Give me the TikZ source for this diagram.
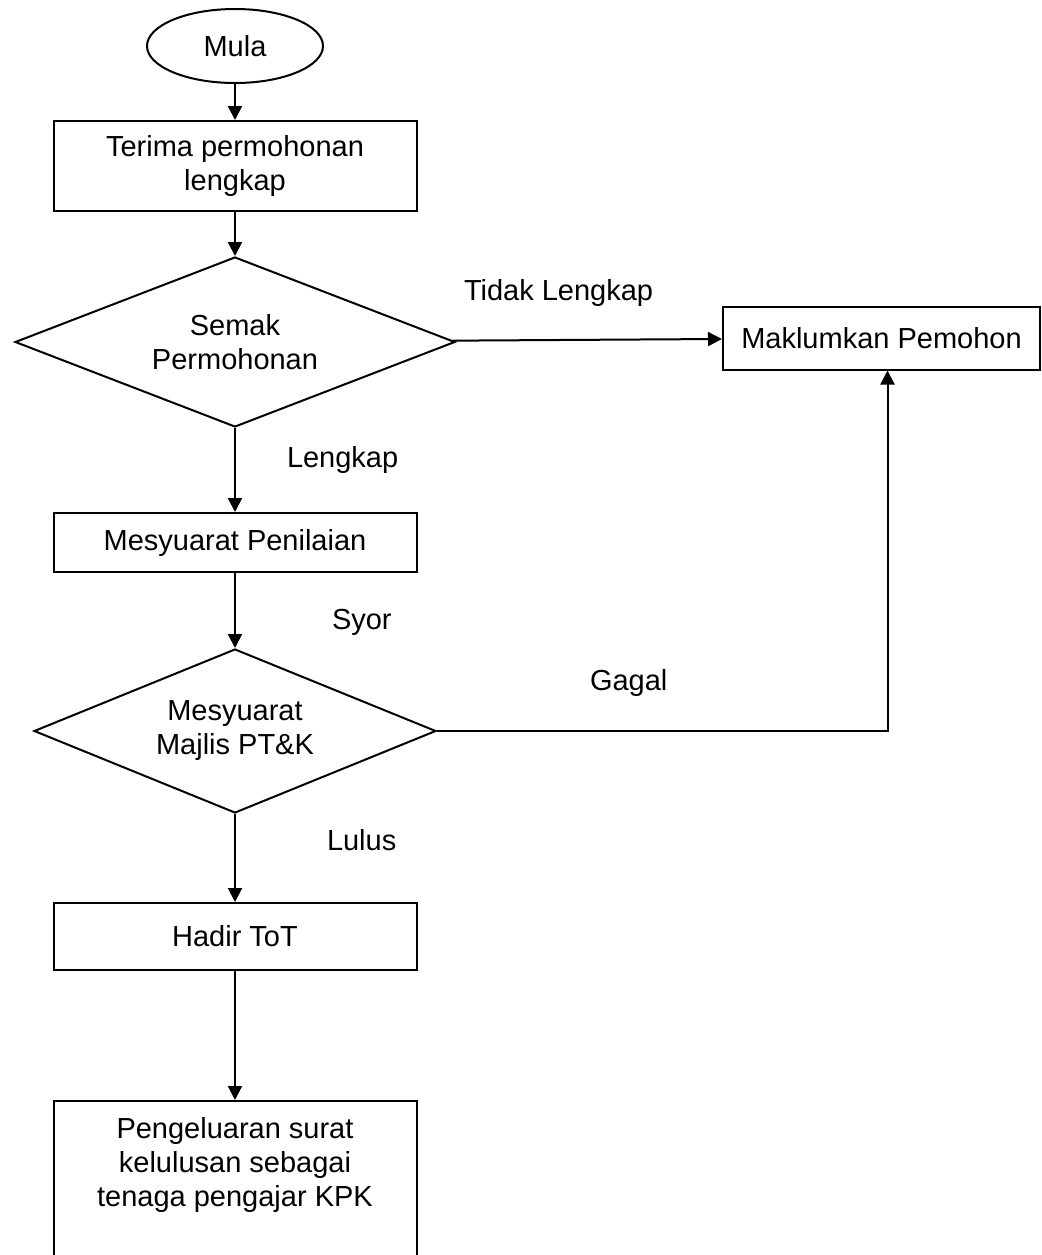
\documentclass[tikz,border=0pt]{standalone}
\usepackage{fontspec}
\setmainfont{Liberation Sans}
\usetikzlibrary{shapes.geometric,positioning,arrows.meta}

\begin{document}
\begin{tikzpicture}[x=0.5pt,y=-0.5pt,line width=1pt,
        font=\fontsize{14.5}{17}\selectfont,
        stepbox/.style={rectangle,draw,align=center,minimum width=181.5pt},
        check/.style={diamond,draw,align=center,inner sep=0pt,aspect=2.5},
        flow/.style={-{Triangle[length=7pt,width=7pt]}},
        lbl/.style={inner sep=0pt}]
        \clip (0,0) rectangle (1042,1255);
        \node[ellipse,draw,minimum width=88pt,minimum height=37pt] (mula) at (235,46) {Mula};
        \node[stepbox,minimum height=45pt] (terima) [below=18pt of mula] {Terima permohonan\\lengkap};
        \node[check,minimum width=220pt,minimum height=85pt] (semak) [below=22pt of terima] {Semak\\Permohonan};
        \node[stepbox,minimum width=158.5pt,minimum height=31.5pt] (maklum) [right=133pt of semak,yshift=2pt] {Maklumkan Pemohon};
        \node[stepbox,minimum height=29.5pt] (penilaian) [below=42pt of semak] {Mesyuarat Penilaian};
        \node[check,minimum width=201pt,minimum height=82pt] (majlis) [below=37.5pt of penilaian] {Mesyuarat\\Majlis PT\&K};
        \node[stepbox,minimum height=33.5pt] (hadir) [below=44pt of majlis] {Hadir ToT};
        \node[stepbox,inner ysep=8pt] (keluar) [below=64.5pt of hadir] {Pengeluaran surat\\kelulusan sebagai\\tenaga pengajar KPK\\[30pt]\mbox{}};

        \node[lbl] (tidak) [above right=17pt and 3.5pt of semak.east] {Tidak Lengkap};
        \node[lbl] (lengkap) [below right=8.5pt and 25.5pt of semak.south] {Lengkap};
        \node[lbl] (syor) [below right=17.5pt and 48pt of penilaian.south] {Syor};
        \node[lbl] (gagal) [above right=16.5pt and 76pt of majlis.east] {Gagal};
        \node[lbl] (lulus) [below right=7pt and 45.5pt of majlis.south] {Lulus};

        \foreach \a/\b in {mula/terima,terima/semak,semak/penilaian,penilaian/majlis,majlis/hadir,hadir/keluar}{
            \draw[flow] (\a)--(\b);
        }
        \draw[flow] (semak)--(maklum);
        \draw[flow] (majlis) -| ([xshift=3pt]maklum.south);
    \end{tikzpicture}
\end{document}
